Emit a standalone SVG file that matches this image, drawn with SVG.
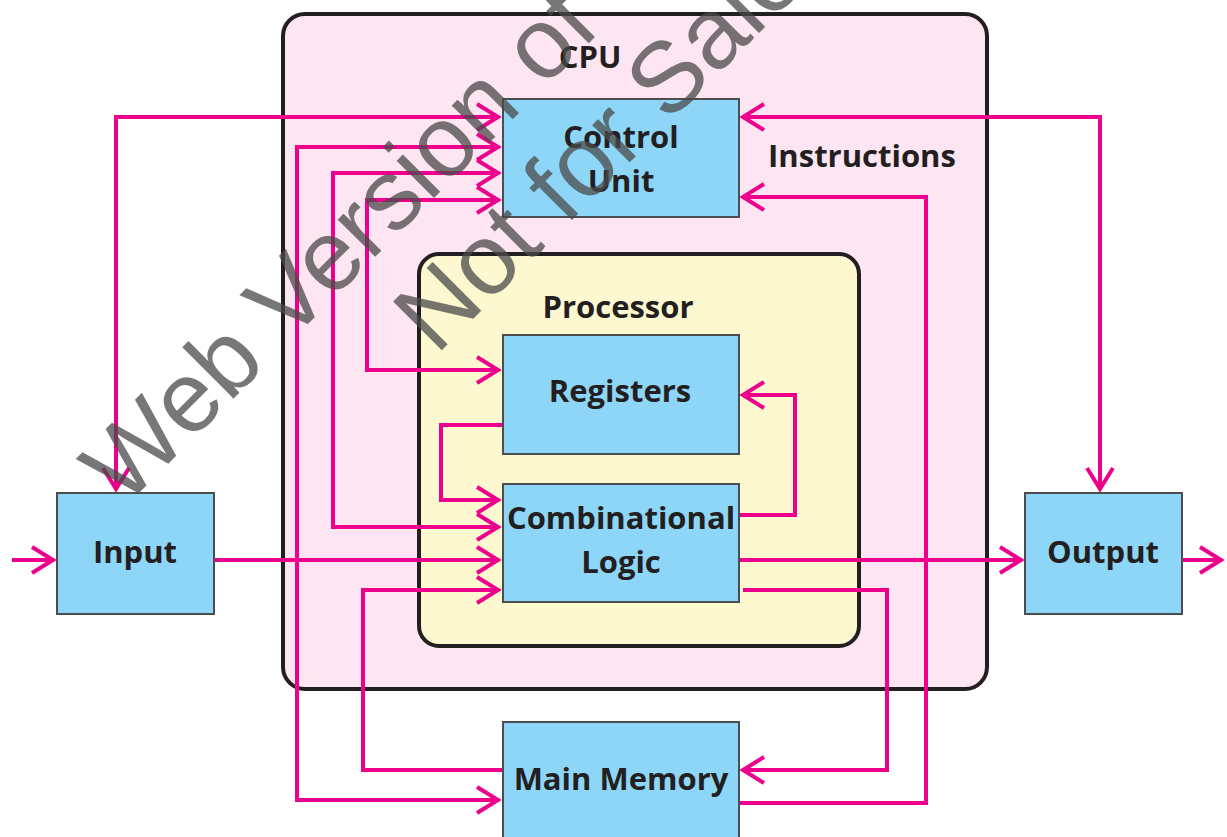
<svg xmlns="http://www.w3.org/2000/svg" width="1227" height="837" viewBox="0 0 1227 837">
  <style>
    .frame { stroke: #231f20; stroke-width: 4; }
    .box { fill: #8ed6f8; stroke: #4d4d4f; stroke-width: 2; }
    .wire { fill: none; stroke: #ec008c; stroke-width: 4; stroke-linejoin: miter; }
    .lbl { font-family: "Open Sans", "Noto Sans", "Liberation Sans", sans-serif; font-weight: 700; font-size: 31px; fill: #231f20; text-anchor: middle; }
    .wm { font-family: "Liberation Sans", Arial, sans-serif; font-size: 100px; fill: #4a4a4a; opacity: 0.75; }
  </style>
  <defs>
    <marker id="ah" viewBox="-26 -16 32 32" refX="1" refY="0" markerWidth="32" markerHeight="32" markerUnits="userSpaceOnUse" orient="auto-start-reverse" overflow="visible">
      <path d="M-21,-13 L0,0 L-21,13" fill="none" stroke="#ec008c" stroke-width="4"/>
    </marker>
  </defs>

  <rect width="1227" height="837" fill="#ffffff"/>

  <!-- containers -->
  <g id="cpu">
    <rect class="frame" x="283" y="14" width="704" height="675" rx="22" fill="#fde5f1"/>
    <text class="lbl" x="590" y="68">CPU</text>
  </g>
  <g id="processor">
    <rect class="frame" x="419" y="254" width="440" height="392" rx="20" fill="#fdf8cf"/>
    <text class="lbl" x="618" y="318">Processor</text>
  </g>

  <!-- connectors -->
  <g id="connectors">
    <path class="wire" d="M116,490 V117 H499" marker-start="url(#ah)" marker-end="url(#ah)"/>
    <path class="wire" d="M499,147 H297 V800 H499" marker-start="url(#ah)" marker-end="url(#ah)"/>
    <path class="wire" d="M499,173 H333 V527 H499" marker-start="url(#ah)" marker-end="url(#ah)"/>
    <path class="wire" d="M499,200 H367 V370 H499" marker-start="url(#ah)" marker-end="url(#ah)"/>
    <path class="wire" d="M502,425 H441 V500 H499" marker-end="url(#ah)"/>
    <path class="wire" d="M214,560 H499" marker-end="url(#ah)"/>
    <path class="wire" d="M502,770 H363 V590 H499" marker-end="url(#ah)"/>
    <path class="wire" d="M742,117 H1100 V490" marker-start="url(#ah)" marker-end="url(#ah)"/>
    <path class="wire" d="M739,803 H926 V197 H742" marker-end="url(#ah)"/>
    <path class="wire" d="M739,515 H795 V395 H742" marker-end="url(#ah)"/>
    <path class="wire" d="M739,560 H1022" marker-end="url(#ah)"/>
    <path class="wire" d="M743,590 H887 V770 H742" marker-end="url(#ah)"/>
    <path class="wire" d="M1183,560 H1222" marker-end="url(#ah)"/>
    <path class="wire" d="M12,560 H54" marker-end="url(#ah)"/>
    <text class="lbl" x="862" y="167">Instructions</text>
  </g>

  <!-- blocks -->
  <g id="control-unit">
    <rect class="box" x="503" y="99" width="236" height="118"/>
    <text class="lbl" x="621" y="148">Control</text>
    <text class="lbl" x="621" y="192">Unit</text>
  </g>
  <g id="registers">
    <rect class="box" x="503" y="335" width="236" height="119"/>
    <text class="lbl" x="620" y="402">Registers</text>
  </g>
  <g id="combinational-logic">
    <rect class="box" x="503" y="484" width="236" height="118"/>
    <text class="lbl" x="621" y="529">Combinational</text>
    <text class="lbl" x="621" y="573">Logic</text>
  </g>
  <g id="main-memory">
    <rect class="box" x="503" y="722" width="236" height="125"/>
    <text class="lbl" x="621" y="790">Main Memory</text>
  </g>
  <g id="input">
    <rect class="box" x="57" y="493" width="157" height="121"/>
    <text class="lbl" x="135" y="563">Input</text>
  </g>
  <g id="output">
    <rect class="box" x="1025" y="493" width="157" height="121"/>
    <text class="lbl" x="1103" y="563">Output</text>
  </g>

  <!-- watermark -->
  <text class="wm" transform="translate(124,508) rotate(-45)">Web Version of T</text>
  <text class="wm" transform="translate(436,356) rotate(-45)">Not for Sale</text>
</svg>
